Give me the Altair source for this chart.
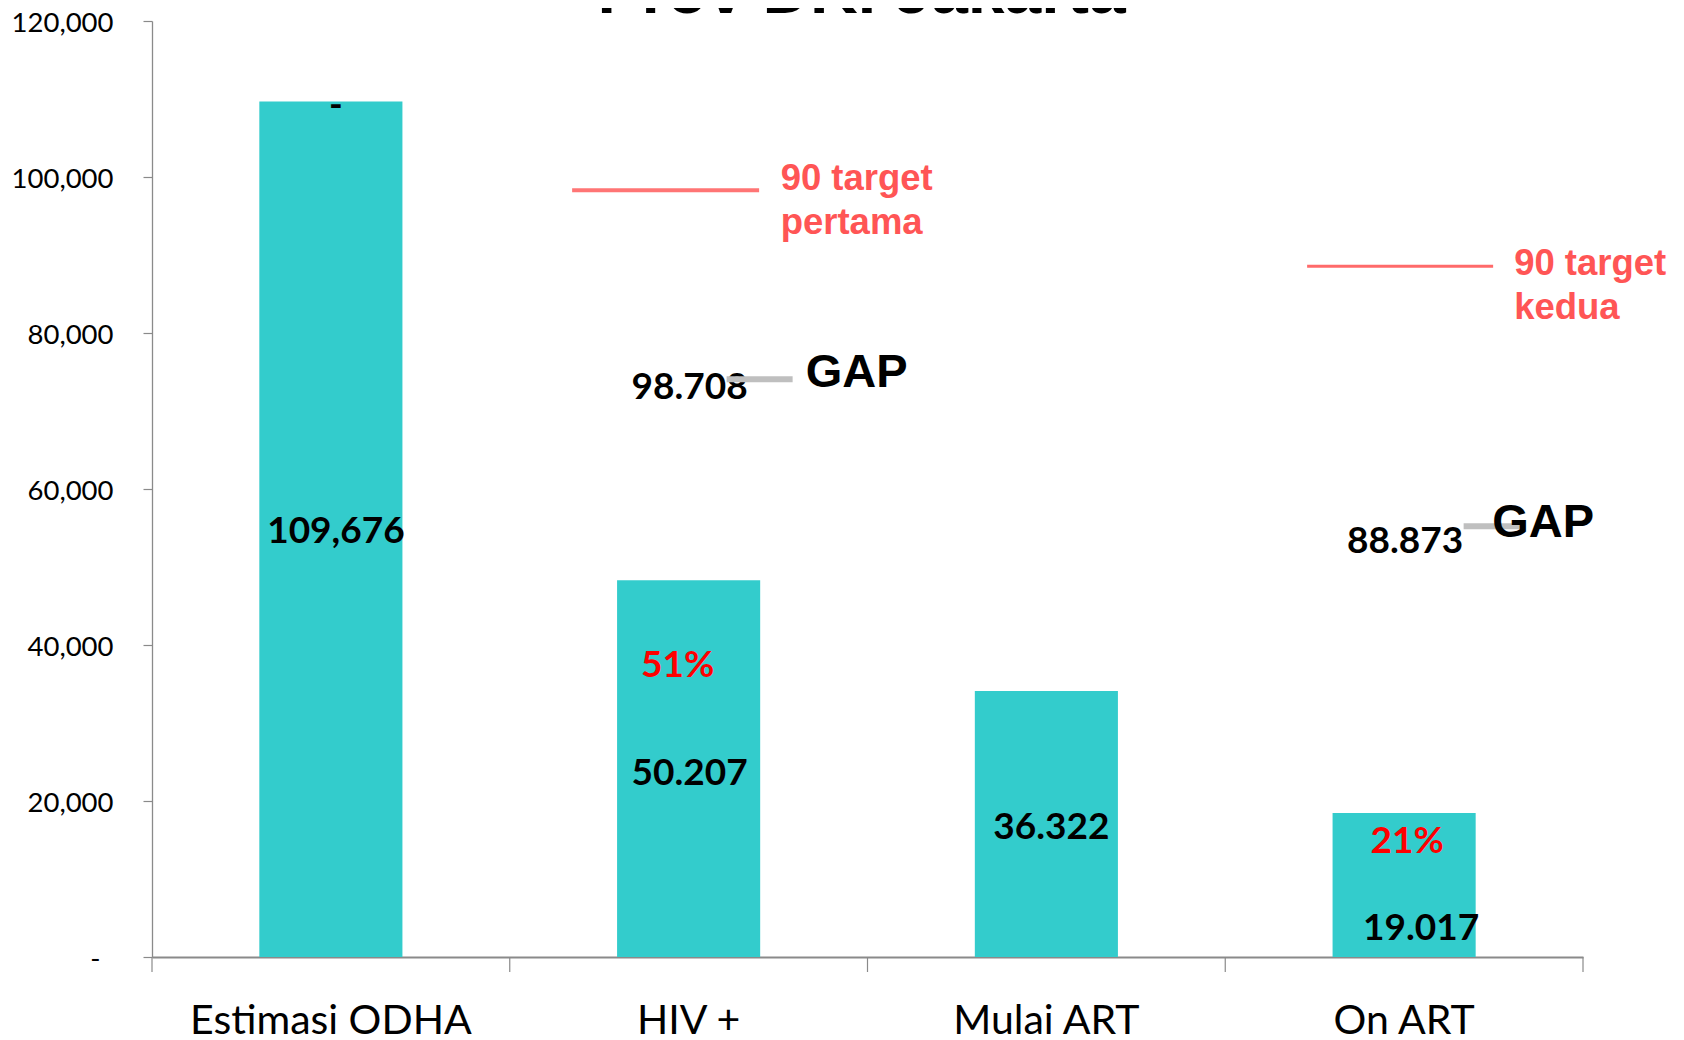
import altair as alt
import pandas as pd

# ---- data ----
categories = ["Estimasi ODHA", "HIV +", "Mulai ART", "On ART"]
bar_values = [109676, 48300, 34100, 18450]
bar_labels = ["109,676", "50.207", "36.322", "19.017"]
bar_label_y = [53100, 22050, 15130, 2180]

top_dash_cat = ["Estimasi ODHA"]
top_dash_text = ["-"]
top_dash_y = [107700]

pct_cats = ["HIV +", "On ART"]
pct_labels = ["51%", "21%"]
pct_y = [35900, 13330]

gap_cats = ["HIV +", "On ART"]
gap_numbers = ["98.708", "88.873"]
gap_number_y = [71540, 51800]
gap_line_y = [74060, 55230]
gap_text = ["GAP", "GAP"]
gap_text_y = [73080, 53850]

target_cats = ["HIV +", "On ART"]
target_line_y = [98300, 88550]
target_text = ["90 target\npertama", "90 target\nkedua"]
target_text_y = [98330, 87440]

y_ticks = [0, 20000, 40000, 60000, 80000, 100000, 120000]
title_text = "Prov DKI Jakarta"

# ---- styling ----
W, H = 1431, 936
STEP = W / len(categories)
BAR = "#33CCCC"
AX = "#8A8A8A"

x_enc = alt.X(
    "cat:N",
    sort=categories,
    scale=alt.Scale(domain=categories, paddingInner=0.6, paddingOuter=0.3),
    axis=alt.Axis(
        title=None, ticks=False,
        domainColor=AX, domainWidth=1.8, labelFont="Lato", labelFontSize=41,
        labelColor="#000000", labelPadding=76, labelBaseline="alphabetic",
        labelLimit=0, labelOverlap=False, labelAngle=0, grid=False,
    ),
)
y_enc = alt.Y(
    "v:Q",
    scale=alt.Scale(domain=[0, 120000], nice=False, zero=True),
    axis=alt.Axis(
        title=None, values=y_ticks, tickSize=9, tickColor=AX, tickWidth=1.2,
        domainColor=AX, domainWidth=1.3, labelFont="Lato", labelFontSize=27.5,
        labelColor="#000000", grid=False, labelOffset=2,
        labelPadding={"condition": {"test": "datum.value == 0", "value": 43}, "value": 30},
        labelExpr="datum.value == 0 ? '-' : format(datum.value, ',')",
    ),
)


def df(cats, vals, texts=None):
    d = {"cat": cats, "v": vals}
    if texts is not None:
        d["t"] = texts
    return pd.DataFrame(d)


layers = []

bars = alt.Chart(df(categories, bar_values)).mark_bar(color=BAR).encode(x=x_enc, y=y_enc)
layers.append(bars)

# category boundary ticks below the x axis
tick_cats = categories + [categories[-1]]
tick_side = [-1, -1, -1, -1, 1]
for i in range(len(tick_cats)):
    layers.append(
        alt.Chart(pd.DataFrame({"cat": [tick_cats[i]]}))
        .mark_rule(color=AX, strokeWidth=1.2, xOffset=tick_side[i] * STEP / 2)
        .encode(x=x_enc, y=alt.value(H), y2=alt.value(H + 15))
    )

# value labels inside bars
bar_dx = [5, 1, 5, 17]
for i in range(len(categories)):
    layers.append(
        alt.Chart(df([categories[i]], [bar_label_y[i]], [bar_labels[i]]))
        .mark_text(font="Lato", fontWeight="bold", fontSize=37, color="#000000",
                   baseline="alphabetic", align="center", dx=bar_dx[i])
        .encode(x=x_enc, y=y_enc, text="t:N")
    )

layers.append(
    alt.Chart(df(top_dash_cat, top_dash_y, top_dash_text))
    .mark_text(font="Lato", fontWeight="bold", fontSize=37, color="#000000",
               baseline="alphabetic", align="center", dx=5)
    .encode(x=x_enc, y=y_enc, text="t:N")
)

pct_dx = [-11, 3]
for i in range(len(pct_cats)):
    layers.append(
        alt.Chart(df([pct_cats[i]], [pct_y[i]], [pct_labels[i]]))
        .mark_text(font="Lato", fontWeight="bold", fontSize=37, color="#FF0000",
                   baseline="alphabetic", align="center", dx=pct_dx[i])
        .encode(x=x_enc, y=y_enc, text="t:N")
    )

for i in range(len(gap_cats)):
    layers.append(
        alt.Chart(df([gap_cats[i]], [gap_number_y[i]], [gap_numbers[i]]))
        .mark_text(font="Lato", fontWeight="bold", fontSize=37, color="#000000",
                   baseline="alphabetic", align="center", dx=1)
        .encode(x=x_enc, y=y_enc, text="t:N")
    )

gap_line_off = [71, 90]
gap_line_len = [66, 61]
for i in range(len(gap_cats)):
    layers.append(
        alt.Chart(df([gap_cats[i]], [gap_line_y[i]]))
        .mark_tick(orient="horizontal", color="#BFBFBF", thickness=6,
                   size=gap_line_len[i], xOffset=gap_line_off[i], opacity=1)
        .encode(x=x_enc, y=y_enc)
    )

gap_dx = [168, 139]
for i in range(len(gap_cats)):
    layers.append(
        alt.Chart(df([gap_cats[i]], [gap_text_y[i]], [gap_text[i]]))
        .mark_text(font="Liberation Sans", fontWeight="bold", fontSize=47, color="#000000",
                   baseline="alphabetic", align="center", dx=gap_dx[i])
        .encode(x=x_enc, y=y_enc, text="t:N")
    )

tgt_off = [-23, -4]
tgt_len = [187, 186]
tgt_thick = [4, 3]
tgt_col = ["#FF7575", "#FF6A6A"]
for i in range(len(target_cats)):
    layers.append(
        alt.Chart(df([target_cats[i]], [target_line_y[i]]))
        .mark_tick(orient="horizontal", color=tgt_col[i], thickness=tgt_thick[i],
                   size=tgt_len[i], xOffset=tgt_off[i], opacity=1)
        .encode(x=x_enc, y=y_enc)
    )

tgt_dx = [92, 110]
for i in range(len(target_cats)):
    layers.append(
        alt.Chart(df([target_cats[i]], [target_text_y[i]], [target_text[i]]))
        .mark_text(font="Liberation Sans", fontWeight="bold", fontSize=36.5, color="#FF5555",
                   baseline="alphabetic", align="left", dx=tgt_dx[i], lineBreak="\n",
                   lineHeight=44)
        .encode(x=x_enc, y=y_enc, text="t:N")
    )

title = (
    alt.Chart(pd.DataFrame({"t": [title_text]}))
    .mark_text(font="Liberation Sans", fontWeight="bold", fontSize=66, color="#000000",
               baseline="alphabetic", align="center")
    .encode(x=alt.value(W / 2 - 6), y=alt.value(-8), text="t:N")
)
layers.append(title)

chart = (
    alt.layer(*layers)
    .properties(
        width=W, height=H,
        padding={"left": 144, "top": 13, "right": 92, "bottom": 90},
        autosize=alt.AutoSizeParams(type="none"),
        background="#FFFFFF",
    )
    .configure_view(stroke=None)
)

chart.save("out.html", embed_options={"renderer": "svg", "actions": False})
